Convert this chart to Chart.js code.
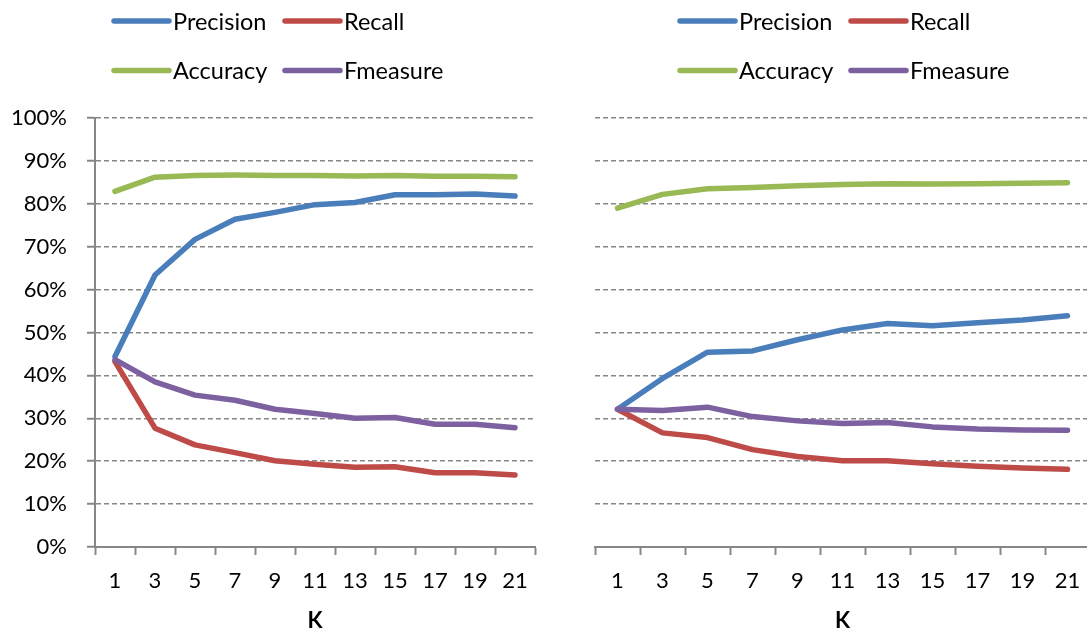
<!DOCTYPE html>
<html>
<head>
<meta charset="utf-8">
<title>Precision / Recall / Accuracy / Fmeasure vs K</title>
<script src="https://cdn.jsdelivr.net/npm/chart.js@4.4.1/dist/chart.umd.min.js"></script>
<style>
  html, body { margin: 0; padding: 0; background: #fff; overflow: hidden; }
  #wrap { position: relative; width: 1087px; height: 633px; overflow: hidden; }
  .panel { position: absolute; top: 0; height: 633px; }
  #leftPanel { left: 0; width: 560px; }
  #rightPanel { left: 560px; width: 540px; }
</style>
</head>
<body>
<div id="wrap">
  <div class="panel" id="leftPanel"><canvas id="leftChart"></canvas></div>
  <div class="panel" id="rightPanel"><canvas id="rightChart"></canvas></div>
</div>
<script>
// K values on the x axis
const kLabels = ['1', '3', '5', '7', '9', '11', '13', '15', '17', '19', '21'];
const yTickValues = [0, 10, 20, 30, 40, 50, 60, 70, 80, 90, 100];

const seriesNames = ['Precision', 'Recall', 'Accuracy', 'Fmeasure'];
const seriesColors = ['#4A7EBB', '#BE4B48', '#98B954', '#7D60A0'];

// left experiment (%)
const leftPrecision = [44.4, 63.4, 71.7, 76.4, 78.0, 79.8, 80.3, 82.1, 82.1, 82.3, 81.8];
const leftRecall    = [43.2, 27.7, 23.8, 22.0, 20.1, 19.3, 18.6, 18.7, 17.3, 17.3, 16.8];
const leftAccuracy  = [82.9, 86.2, 86.6, 86.7, 86.6, 86.6, 86.5, 86.6, 86.4, 86.4, 86.3];
const leftFmeasure  = [43.7, 38.5, 35.4, 34.2, 32.1, 31.1, 30.0, 30.2, 28.6, 28.6, 27.8];

// right experiment (%)
const rightPrecision = [32.1, 39.3, 45.4, 45.7, 48.3, 50.6, 52.1, 51.6, 52.3, 52.9, 53.9];
const rightRecall    = [32.1, 26.6, 25.5, 22.7, 21.1, 20.1, 20.1, 19.4, 18.8, 18.4, 18.1];
const rightAccuracy  = [79.0, 82.2, 83.5, 83.8, 84.2, 84.5, 84.7, 84.6, 84.7, 84.8, 84.9];
const rightFmeasure  = [32.1, 31.8, 32.6, 30.4, 29.4, 28.8, 29.0, 28.0, 27.5, 27.3, 27.2];

Chart.defaults.font.family = 'Lato, "Open Sans", sans-serif';
Chart.defaults.color = '#000';

const axisGray = '#878787';

// two-column legend drawn above the plot
const gridLegend = {
  id: 'gridLegend',
  afterDraw(chart, args, opts) {
    const ctx = chart.ctx;
    ctx.save();
    ctx.font = opts.fontSize + 'px ' + Chart.defaults.font.family;
    ctx.textBaseline = 'middle';
    ctx.textAlign = 'left';
    ctx.fillStyle = '#000';
    chart.data.datasets.forEach((ds, i) => {
      const x = opts.x + (i % 2) * opts.colWidth;
      const y = opts.y + Math.floor(i / 2) * opts.rowHeight;
      ctx.strokeStyle = ds.borderColor;
      ctx.lineWidth = ds.borderWidth;
      ctx.lineCap = 'round';
      ctx.beginPath();
      ctx.moveTo(x, y);
      ctx.lineTo(x + opts.lineLength, y);
      ctx.stroke();
      ctx.fillText(ds.label, x + opts.lineLength + opts.textGap, y + 1);
    });
    ctx.restore();
  }
};

function makeChart(canvasId, series, cfg) {
  const datasets = series.map((values, i) => ({
    label: seriesNames[i],
    data: values,
    borderColor: seriesColors[i],
    backgroundColor: seriesColors[i],
    borderWidth: 5.5,
    pointRadius: 0,
    pointHoverRadius: 0,
    tension: 0,
    fill: false,
    borderCapStyle: 'round',
    borderJoinStyle: 'round',
    order: series.length - i   // later series drawn on top
  }));

  return new Chart(document.getElementById(canvasId), {
    type: 'line',
    data: { labels: kLabels, datasets: datasets },
    options: {
      responsive: true,
      maintainAspectRatio: false,
      animation: false,
      layout: { padding: { top: 118, right: cfg.padRight, bottom: 0, left: 0 } },
      plugins: {
        legend: { display: false },
        tooltip: { enabled: false },
        gridLegend: {
          x: cfg.legendX, y: 21, colWidth: 171, rowHeight: 49.5,
          lineLength: 55, textGap: 4, fontSize: 23.5
        }
      },
      scales: {
        x: {
          type: 'category',
          offset: true,
          grid: {
            offset: true,
            drawOnChartArea: false,
            drawTicks: true,
            tickLength: 8,
            tickWidth: 2,
            color: axisGray
          },
          border: { display: true, color: axisGray, width: 2 },
          ticks: { font: { size: 22 }, padding: 13, maxRotation: 0, autoSkip: false },
          title: {
            display: true,
            text: 'K',
            font: { size: 22, weight: 'bold', lineHeight: 1 },
            padding: { top: 0, bottom: 1 }
          },
          afterFit: s => { s.height = 86; }
        },
        y: {
          min: 0,
          max: 100,
          afterBuildTicks: s => { s.ticks = yTickValues.map(v => ({ value: v })); },
          grid: {
            color: axisGray,
            lineWidth: 1.5,
            drawTicks: cfg.showYLabels,
            tickLength: 8,
            tickWidth: 2,
            tickBorderDash: []
          },
          border: { display: cfg.showYLabels, color: axisGray, width: 2, dash: [5, 3] },
          ticks: {
            display: cfg.showYLabels,
            font: { size: 22 },
            padding: 20,
            callback: v => v + '%'
          },
          afterFit: s => { s.width = cfg.yWidth; }
        }
      }
    },
    plugins: [gridLegend]
  });
}

makeChart('leftChart', [leftPrecision, leftRecall, leftAccuracy, leftFmeasure],
  { showYLabels: true, yWidth: 95, padRight: 25, legendX: 114 });
makeChart('rightChart', [rightPrecision, rightRecall, rightAccuracy, rightFmeasure],
  { showYLabels: false, yWidth: 35, padRight: 10, legendX: 120 });
</script>
</body>
</html>
